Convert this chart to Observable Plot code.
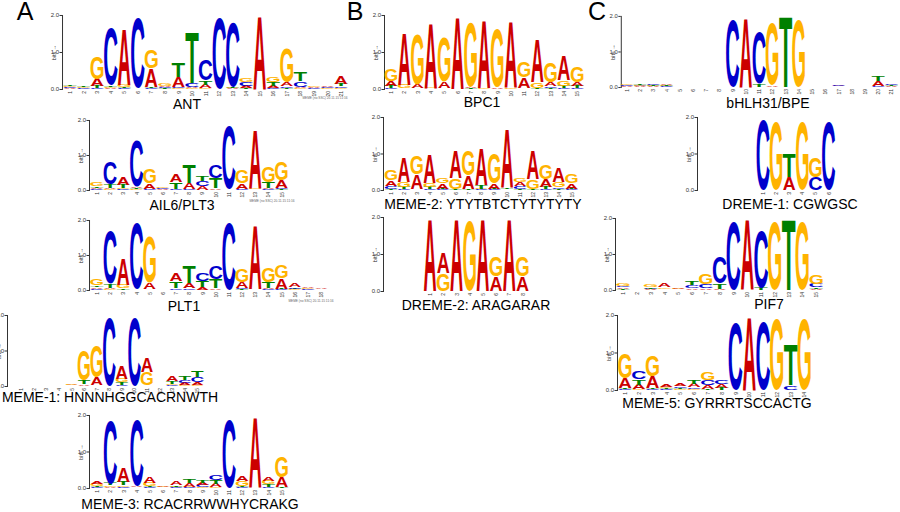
<!DOCTYPE html>
<html><head><meta charset="utf-8">
<script src="https://cdn.jsdelivr.net/npm/d3@7"></script>
<script src="https://cdn.jsdelivr.net/npm/@observablehq/plot@0.6"></script>
<style>
body{margin:0;background:#fff;}
#fig{position:relative;width:900px;height:512px;overflow:hidden;font-family:"Liberation Sans",Arial,Helvetica,sans-serif;}
.logo{position:absolute;}
.logo svg{overflow:visible;}
.logo svg [aria-label="x-axis tick label"]{font-size:5px;}
.logo svg [aria-label="y-axis tick label"]{font-size:6px;}
.logo svg [aria-label="y-axis label"]{font-size:5.5px;}
</style></head><body><div id="fig"></div>
<script>
// Letter order in every column: [A, C, G, T], heights in bits
const letters = ["A", "C", "G", "T"];
const letterColors = ["#CC0000", "#0000CC", "#FFB300", "#008000"];

const antBits = [
  [.02,.02,.03,.04],[.01,.02,.02,.03],[.2,.02,.63,.05],[.03,1.6,.03,.04],[1.55,.02,.06,.03],
  [0,1.98,0,.01],[.5,.03,.5,.03],[.04,.03,.08,.02],[.27,.03,.02,.4],[.03,.1,.02,1.4],
  [.1,.6,.02,.12],[0,2.0,0,0],[.02,1.8,.02,.02],[.06,.1,.1,.02],[2.0,0,0,0],
  [.06,.03,.14,.1],[.1,.04,.95,.03],[.04,.15,.02,.25],[.03,.02,.05,.01],[.04,.03,.02,.01],
  [.2,.05,.02,.06]
];
const ail6Bits = [
  [.03,.02,.12,.05],[.03,.65,.02,.12],[.22,.02,.03,.1],[.05,1.38,.02,.03],[.15,.03,.44,.01],
  [.02,.02,.02,.01],[.22,.03,.01,.2],[.17,.03,.01,.53],[.1,.14,.01,.14],[.04,.4,.01,.29],
  [.01,1.87,.01,.01],[.15,.03,.39,.01],[1.7,.01,.02,.01],[.04,.02,.46,.17],[.22,.03,.55,.02]
];
const plt1Bits = [
  [.05,.03,.2,.05],[.04,1.55,.02,.12],[.76,.01,.1,.04],[.01,1.96,.01,.01],[.2,.01,1.38,.01],
  [.01,.01,.01,.01],[.24,.04,.01,.2],[.16,.04,.01,.5],[.08,.22,.01,.17],[.04,.38,.01,.25],
  [0,1.98,0,0],[.17,.03,.38,.02],[1.84,.01,.01,.01],[.03,.02,.42,.17],[.3,.02,.4,.02],
  [.12,.04,.02,.02],[.03,.02,.02,.01],[.02,.01,.01,.01]
];
const meme1Bits = [
  [.01,.01,.01,.01],[.01,.01,.01,.01],[.01,.01,.01,.01],[.01,.01,.01,.01],[.02,.01,.02,.01],
  [.05,.01,.9,.1],[.22,.01,.93,.01],[0,2.0,0,0],[.36,.02,.1,.08],[0,2.0,0,0],
  [.4,.01,.38,.01],[.01,.01,.01,.01],[.16,.02,.05,.08],[.06,.08,.02,.12],[.08,.15,.02,.17]
];
const meme3Bits = [
  [.08,.02,.06,.02],[.03,1.8,.04,.05],[.4,.02,.05,.1],[.02,1.88,.01,.01],[.18,.02,.1,.02],
  [.03,.01,.02,.01],[.1,.02,.02,.03],[.1,.02,.02,.1],[.07,.06,.02,.08],[.1,.16,.02,.1],
  [0,1.95,0,0],[.15,.02,.14,.02],[1.97,0,0,0],[.12,.02,.1,.08],[.27,.01,.58,.02]
];
const bpc1Bits = [
  [.15,.02,.32,.05],[1.45,.01,.1,.01],[.1,.01,1.4,.01],[1.8,.01,.02,.01],[.18,.01,1.27,.01],
  [1.98,0,0,0],[.03,.01,1.8,.02],[1.88,0,.02,0],[.04,.01,1.64,0],[1.82,0,.03,0],
  [.3,.01,.44,.01],[1.2,.01,.15,.02],[.12,.05,.55,.02],[.68,.03,.15,.05],[.12,.02,.44,.05]
];
const meme2Bits = [
  [.15,.08,.3,.03],[.7,.02,.15,.05],[.41,.01,.54,.01],[.8,.02,.12,.05],[.15,.02,.15,.02],
  [.75,.01,.3,.02],[.36,.01,.7,.02],[1.0,.02,.02,.1],[.15,.02,.88,.02],[1.65,.01,.01,.03],
  [.12,.08,.12,.02],[.8,.01,.27,.02],[.22,.02,.4,.05],[.38,.05,.15,.03],[.15,.02,.25,.02]
];
const dreme2Bits = [
  [1.96,0,0,0],[.58,0,.48,0],[1.96,0,0,0],[0,0,1.96,0],[1.96,0,0,0],[.4,0,.57,0],[1.96,0,0,0],[.4,0,.57,0]
];
const bhlhBits = [
  [.02,.02,.02,.01],[.02,.02,.02,.03],[.02,.03,.02,.02],[.04,.02,.02,.02],[.005,.005,.005,.005],
  [0,0,0,0],[0,0,0,0],[.01,.01,.01,0],[0,1.98,0,0],[1.98,0,0,0],
  [0,1.5,0,.08],[.05,0,1.8,0],[0,0,0,2.0],[0,0,1.98,0],[0,0,0,0],
  [.01,.01,.01,.01],[.02,.02,.01,.01],[.01,.01,.01,.01],[.005,.005,.005,.005],[.15,.03,0,.15],
  [.02,.03,.01,.02]
];
const dreme1Bits = [
  [0,2.0,0,0],[0,0,1.95,0],[.36,0,0,.64],[0,0,1.95,0],[0,.36,.55,0],[0,1.97,0,0]
];
const pif7Bits = [
  [.05,.05,.08,.02],[.01,.01,.01,.01],[.02,.02,.08,.05],[.12,.01,.05,.01],[.03,.01,.02,.01],
  [.05,.08,.01,.12],[.03,.12,.3,.01],[.02,.77,.01,.15],[0,2.0,0,0],[2.0,0,0,0],
  [0,1.63,0,.07],[0,0,2.0,0],[0,0,0,2.0],[0,0,1.98,0],[.02,.1,.25,.05]
];
const meme5Bits = [
  [.27,.02,.7,.03],[.12,.2,.02,.15],[.31,.02,.6,.02],[.06,.02,.05,.02],[.06,.05,.02,.04],
  [.1,.05,.02,.1],[.1,.15,.22,.02],[.1,.12,.01,.05],[0,1.88,0,0],[2.0,0,0,0],
  [0,1.92,0,0],[0,0,1.96,0],[0,.12,0,1.08],[0,0,1.96,0]
];

const logoNames = ["ANT","AIL6/PLT3","PLT1","MEME-1: HNNNHGGCACRNWTH","MEME-3: RCACRRWWHYCRAKG",
  "BPC1","MEME-2: YTYTBTCTYTYTYTY","DREME-2: ARAGARAR",
  "bHLH31/BPE","DREME-1: CGWGSC","PIF7","MEME-5: GYRRRTSCCACTG"];
const panelLetters = ["A","B","C"];
const stampText = "MEME (no SSC) 20.11.15 11:16";

// layout (pixels)
const layout = [
  {data: antBits,   ax: 62,  p1: 70,   s: 13.55, y2: 15,  y0: 89,  lx: 187, ly: 109, stamp: [325, 99]},
  {data: ail6Bits,  ax: 89,  p1: 96.8, s: 13.2,  y2: 120, y0: 190, lx: 182, ly: 210, stamp: [272, 202]},
  {data: plt1Bits,  ax: 89,  p1: 96.8, s: 13.2,  y2: 220, y0: 290, lx: 184, ly: 311, stamp: [311, 302]},
  {data: meme1Bits, ax: 7,   p1: 21,   s: 12.6,  y2: 315, y0: 386, lx: 110, ly: 402},
  {data: meme3Bits, ax: 89,  p1: 97,   s: 13.2,  y2: 415, y0: 488, lx: 190, ly: 509},
  {data: bpc1Bits,  ax: 384, p1: 391,  s: 13.3,  y2: 15,  y0: 89,  lx: 482, ly: 107},
  {data: meme2Bits, ax: 383, p1: 391,  s: 12.9,  y2: 117, y0: 190, lx: 483, ly: 209},
  {data: dreme2Bits,ax: 383, p1: 430,  s: 13.2,  y2: 217, y0: 291, lx: 476, ly: 310},
  {data: bhlhBits,  ax: 621, p1: 627,  s: 13.4,  y2: 16,  y0: 88,  lx: 768, ly: 108},
  {data: dreme1Bits,ax: 697, p1: 763,  s: 13.1,  y2: 117, y0: 190, lx: 790, ly: 209},
  {data: pif7Bits,  ax: 615, p1: 623,  s: 13.8,  y2: 218, y0: 290, lx: 769, ly: 309},
  {data: meme5Bits, ax: 617, p1: 625,  s: 13.8,  y2: 315, y0: 390, lx: 717, ly: 408}
];
const panelPos = [[25, 20], [355, 20], [597, 20]];

// glyph metrics of bold sans (fraction of font size)
const inkW = [0.71, 0.64, 0.69, 0.59];
const capH = [0.716, 0.74, 0.74, 0.716];

const fig = document.getElementById("fig");

function drawLogo(cfg) {
  const {data, ax, p1, s, y2, y0} = cfg;
  const n = data.length;
  const mL = 18, mR = 2, mT = 6, mB = 10;
  const xr = p1 + (n - 0.5) * s;
  const d0 = 1 + (ax - p1) / s;
  const width = mL + (xr - ax) + mR;
  const height = mT + (y0 - y2) + mB;
  const positions = d3.range(1, n + 1);

  const stackMark = (index, scales) => {
    const g = d3.create("svg:g");
    data.forEach((col, i) => {
      const order = d3.sort(d3.range(4), j => col[j]);
      const xc = scales.x(i + 1);
      const w = (scales.x(i + 1.5) - scales.x(i + 0.5)) * 0.97;
      let cum = 0;
      for (const j of order) {
        const h = col[j];
        if (h <= 0) continue;
        const yb = scales.y(cum), yt = scales.y(cum + h);
        cum += h;
        const hp = yb - yt;
        if (hp < 0.5) continue;
        const sy = hp / (capH[j] * 100);
        const off = (j === 1 || j === 2) ? 1.2 * sy : 0;
        g.append("text")
          .attr("font-size", 100)
          .attr("font-weight", "bold")
          .attr("font-family", "Liberation Sans, Arial, sans-serif")
          .attr("text-anchor", "middle")
          .attr("fill", letterColors[j])
          .attr("transform", `translate(${xc},${yb - off}) scale(${w / (inkW[j] * 100)},${sy})`)
          .text(letters[j]);
      }
    });
    return g.node();
  };

  const svg = Plot.plot({
    width, height,
    marginLeft: mL, marginRight: mR, marginTop: mT, marginBottom: mB,
    style: {fontFamily: "Liberation Sans, Arial, sans-serif", fontSize: "5px", background: "transparent", color: "#333", overflow: "visible"},
    x: {domain: [d0, n + 0.5], ticks: positions, tickFormat: d => String(d), tickRotate: -90, tickSize: 0, tickPadding: 1.5, label: null},
    y: {domain: [0, 2], ticks: [0, 1, 2], tickSize: 2.5, tickPadding: 1, label: "bits", labelAnchor: "center", labelOffset: 10, line: true},
    marks: [stackMark]
  });
  const div = document.createElement("div");
  div.className = "logo";
  div.style.left = (ax - mL) + "px";
  div.style.top = (y2 - mT) + "px";
  div.appendChild(svg);
  fig.appendChild(div);
}

layout.forEach(drawLogo);

// text overlay: logo names, panel letters, stamps
const overlay = d3.create("svg")
  .attr("width", 900).attr("height", 512)
  .style("position", "absolute").style("left", 0).style("top", 0)
  .style("font-family", "Liberation Sans, Arial, Helvetica, sans-serif");
layout.forEach((cfg, i) => {
  overlay.append("text").attr("x", cfg.lx).attr("y", cfg.ly)
    .attr("text-anchor", "middle").attr("font-size", 14).text(logoNames[i]);
  if (cfg.stamp) {
    overlay.append("text").attr("x", cfg.stamp[0]).attr("y", cfg.stamp[1])
      .attr("text-anchor", "middle").attr("font-size", 3.2).attr("fill", "#666").text(stampText);
  }
});
panelLetters.forEach((t, i) => {
  overlay.append("text").attr("x", panelPos[i][0]).attr("y", panelPos[i][1])
    .attr("text-anchor", "middle").attr("font-size", 25).text(t);
});
fig.appendChild(overlay.node());
</script></body></html>
